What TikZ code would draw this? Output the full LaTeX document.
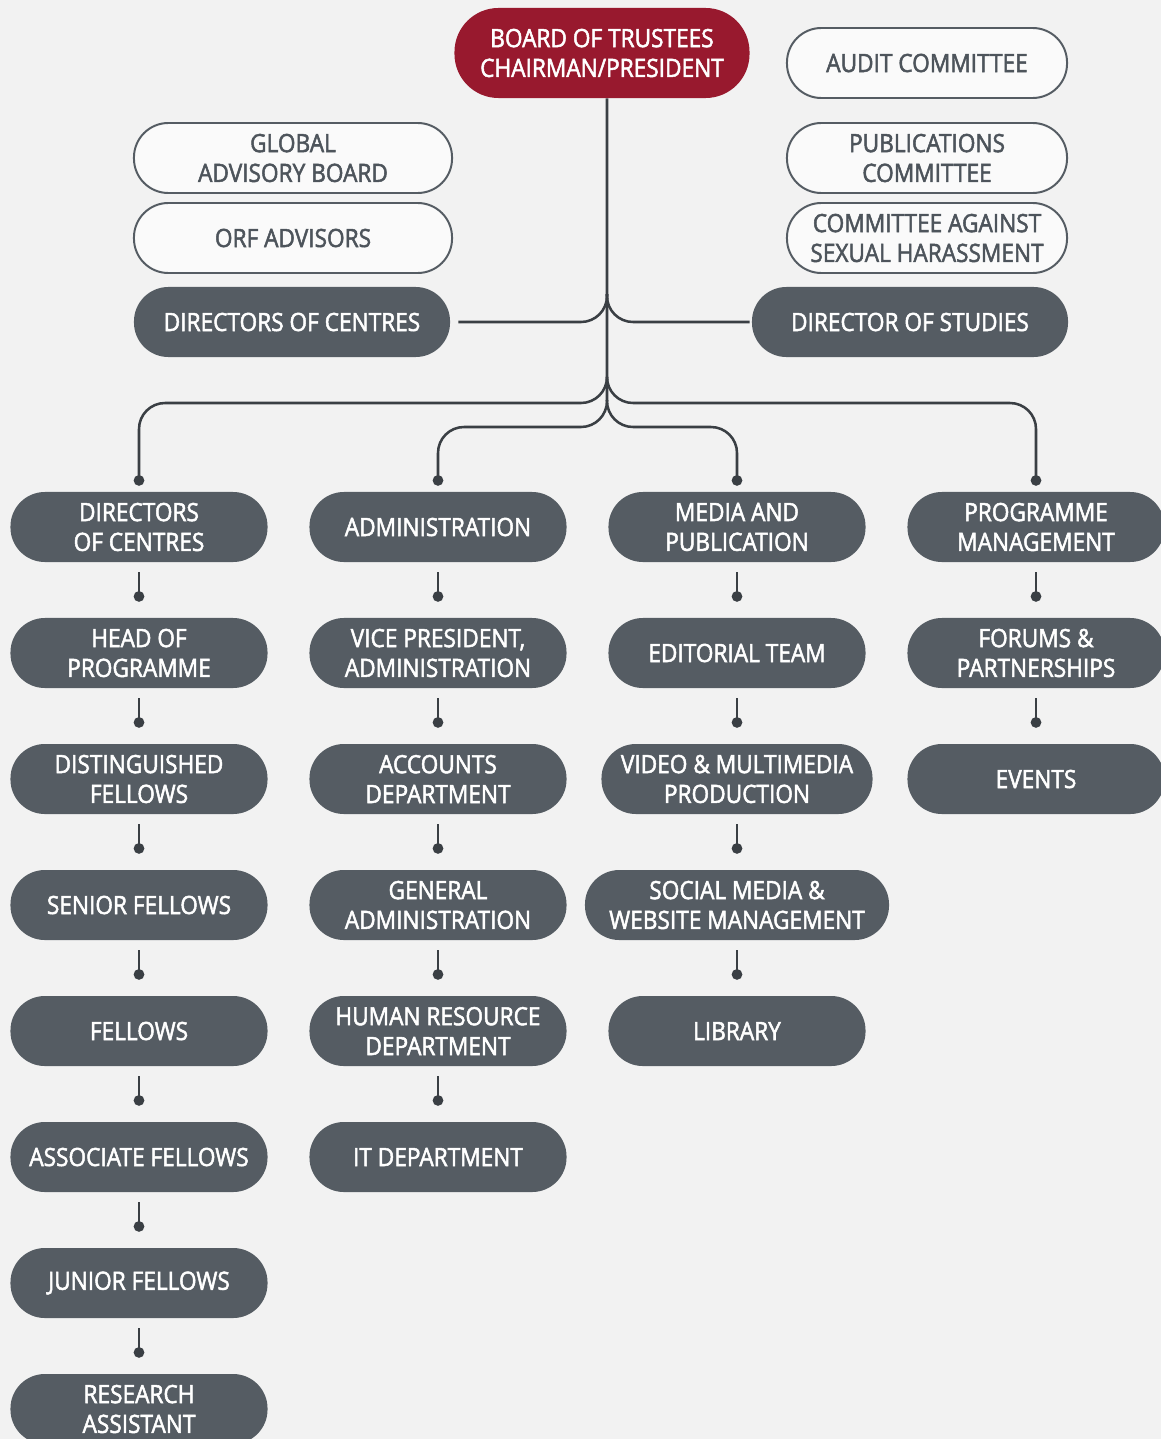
\documentclass[tikz,border=0pt]{standalone}
\usepackage{fontspec}
\setmainfont[FakeStretch=0.9, FakeBold=2]{Open Sans}
\usetikzlibrary{arrows.meta}

\definecolor{paper}{HTML}{F2F2F2}
\definecolor{boxgrey}{HTML}{555C63}
\definecolor{linegrey}{HTML}{3A3F44}
\definecolor{textgrey}{HTML}{4D545B}
\definecolor{trustred}{HTML}{98192E}

\tikzset{
  unit/.style={rectangle, rounded corners=0.86cm, minimum width=6.425cm,
    minimum height=1.75cm, inner sep=0pt, align=center,
    font=\fontsize{17.9}{21.2}\selectfont},
  darkbox/.style={unit, fill=boxgrey, text=white},
  lightbox/.style={unit, draw=boxgrey, line width=1.4pt, fill=white!60!paper,
    text=textgrey, minimum width=7cm},
  topbox/.style={unit, fill=trustred, text=white, minimum width=7.375cm,
    minimum height=2.25cm, rounded corners=1.1cm},
  link/.style={draw=linegrey, line width=1.8pt},
  dotlink/.style={link, -{Circle[length=7.5pt]}},
}

\begin{document}
\begin{tikzpicture}[x=0.025cm, y=-0.025cm]
  \fill[paper] (0,0) rectangle (1161,1439);
  \useasboundingbox (0,0) rectangle (1161,1439);

  % top of the tree
  \node[topbox] (board) at (602,53) {BOARD OF TRUSTEES\\CHAIRMAN/PRESIDENT};
  \node[lightbox] (audit) at (927,63) {AUDIT COMMITTEE};
  \node[lightbox] (pubcom) at (927,158) {PUBLICATIONS\\COMMITTEE};
  \node[lightbox] (casch) at (927,238) {COMMITTEE AGAINST\\SEXUAL HARASSMENT};
  \node[lightbox, minimum width=7.95cm] (gab) at (293,158) {GLOBAL\\ADVISORY BOARD};
  \node[lightbox, minimum width=7.95cm] (orfadv) at (293,238) {ORF ADVISORS};
  \node[darkbox, minimum width=7.9cm] (dcentres) at (292,322) {DIRECTORS OF CENTRES};
  \node[darkbox, minimum width=7.9cm] (dstudies) at (910,322) {DIRECTOR OF STUDIES};

  % column 1
  \node[darkbox] (dcA) at (139,527) {DIRECTORS\\OF CENTRES};
  \node[darkbox] (hop) at (139,653) {HEAD OF\\PROGRAMME};
  \node[darkbox] (dist) at (139,779) {DISTINGUISHED\\FELLOWS};
  \node[darkbox] (senior) at (139,905) {SENIOR FELLOWS};
  \node[darkbox] (fellows) at (139,1031) {FELLOWS};
  \node[darkbox] (assoc) at (139,1157) {ASSOCIATE FELLOWS};
  \node[darkbox] (junior) at (139,1283) {JUNIOR FELLOWS};
  \node[darkbox] (ra) at (139,1409) {RESEARCH\\ASSISTANT};

  % column 2
  \node[darkbox] (admin) at (438,527) {ADMINISTRATION};
  \node[darkbox] (vp) at (438,653) {VICE PRESIDENT,\\ADMINISTRATION};
  \node[darkbox] (accounts) at (438,779) {ACCOUNTS\\DEPARTMENT};
  \node[darkbox] (genadmin) at (438,905) {GENERAL\\ADMINISTRATION};
  \node[darkbox] (hr) at (438,1031) {HUMAN RESOURCE\\DEPARTMENT};
  \node[darkbox] (itdept) at (438,1157) {IT DEPARTMENT};

  % column 3
  \node[darkbox] (media) at (737,527) {MEDIA AND\\PUBLICATION};
  \node[darkbox] (editorial) at (737,653) {EDITORIAL TEAM};
  \node[darkbox, minimum width=6.775cm] (video) at (737,779) {VIDEO \& MULTIMEDIA\\PRODUCTION};
  \node[darkbox, minimum width=7.6cm] (social) at (737,905) {SOCIAL MEDIA \&\\WEBSITE MANAGEMENT};
  \node[darkbox] (library) at (737,1031) {LIBRARY};

  % column 4
  \node[darkbox] (progman) at (1036,527) {PROGRAMME\\MANAGEMENT};
  \node[darkbox] (forums) at (1036,653) {FORUMS \&\\PARTNERSHIPS};
  \node[darkbox] (events) at (1036,779) {EVENTS};

  % trunk and branches
  \coordinate (trunkend) at (607,400);
  \draw[link] ([xshift=0.125cm]board.south) -- (trunkend);
  \draw[link, rounded corners=0.65cm] (607,294) |- ([xshift=0.2cm]dcentres.east);
  \draw[link, rounded corners=0.65cm] (607,294) |- ([xshift=-0.05cm]dstudies.west);
  \draw[dotlink, rounded corners=0.65cm] (607,377) |- (dcA.north |- 0,403) -- ([yshift=0.15cm]dcA.north);
  \draw[dotlink, rounded corners=0.65cm] (607,377) |- (progman.north |- 0,403) -- ([yshift=0.15cm]progman.north);
  \draw[dotlink, rounded corners=0.65cm] (trunkend) |- (admin.north |- 0,427) -- ([yshift=0.15cm]admin.north);
  \draw[dotlink, rounded corners=0.65cm] (trunkend) |- (media.north |- 0,427) -- ([yshift=0.15cm]media.north);

  % chains inside the columns
  \foreach \a/\b in {dcA/hop, hop/dist, dist/senior, senior/fellows, fellows/assoc,
      assoc/junior, junior/ra, admin/vp, vp/accounts, accounts/genadmin,
      genadmin/hr, hr/itdept, media/editorial, editorial/video, video/social,
      social/library, progman/forums, forums/events}
    \draw[dotlink] ([yshift=-0.25cm]\a.south) -- ([yshift=0.4cm]\b.north);
\end{tikzpicture}
\end{document}
